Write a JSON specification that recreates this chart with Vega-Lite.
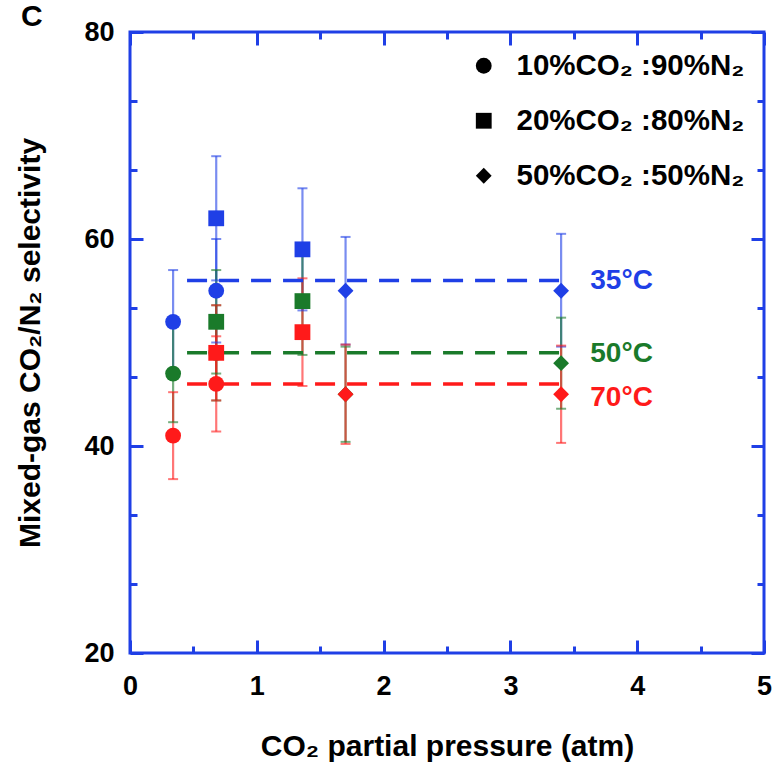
{
  "$schema": "https://vega.github.io/schema/vega-lite/v6.json",
  "width": 634,
  "height": 621,
  "autosize": {"type": "none"},
  "padding": {"left": 130, "top": 32, "right": 14, "bottom": 119},
  "background": "white",
  "title": {"text": "C", "anchor": "start", "frame": "bounds", "fontSize": 30, "fontWeight": "bold", "font": "Liberation Sans", "color": "black", "offset": 3, "dy": 17, "dx": 5},
  "config": {
    "view": {"stroke": "#1f3fe6", "strokeWidth": 3},
    "font": "Liberation Sans"
  },
  "datasets": {
    "pts": [
      {"mix": "10%CO₂ :90%N₂", "temp": "35°C", "p": 0.34, "v": 52, "lo": 47, "hi": 57},
      {"mix": "10%CO₂ :90%N₂", "temp": "35°C", "p": 0.68, "v": 55, "lo": 50, "hi": 60},
      {"mix": "20%CO₂ :80%N₂", "temp": "35°C", "p": 0.68, "v": 62, "lo": 56, "hi": 68},
      {"mix": "20%CO₂ :80%N₂", "temp": "35°C", "p": 1.36, "v": 59, "lo": 53.1, "hi": 64.9},
      {"mix": "50%CO₂ :50%N₂", "temp": "35°C", "p": 1.7, "v": 55, "lo": 49.8, "hi": 60.2},
      {"mix": "50%CO₂ :50%N₂", "temp": "35°C", "p": 3.4, "v": 55, "lo": 49.6, "hi": 60.5},
      {"mix": "10%CO₂ :90%N₂", "temp": "50°C", "p": 0.34, "v": 47, "lo": 42.3, "hi": 51.7},
      {"mix": "10%CO₂ :90%N₂", "temp": "50°C", "p": 0.68, "v": 49, "lo": 44.4, "hi": 53.6},
      {"mix": "20%CO₂ :80%N₂", "temp": "50°C", "p": 0.68, "v": 52, "lo": 47, "hi": 57},
      {"mix": "20%CO₂ :80%N₂", "temp": "50°C", "p": 1.36, "v": 54, "lo": 48.8, "hi": 59.2},
      {"mix": "50%CO₂ :50%N₂", "temp": "50°C", "p": 1.7, "v": 45, "lo": 40.4, "hi": 49.6},
      {"mix": "50%CO₂ :50%N₂", "temp": "50°C", "p": 3.4, "v": 48, "lo": 43.6, "hi": 52.4},
      {"mix": "10%CO₂ :90%N₂", "temp": "70°C", "p": 0.34, "v": 41, "lo": 36.8, "hi": 45.2},
      {"mix": "10%CO₂ :90%N₂", "temp": "70°C", "p": 0.68, "v": 46, "lo": 41.4, "hi": 50.6},
      {"mix": "20%CO₂ :80%N₂", "temp": "70°C", "p": 0.68, "v": 49, "lo": 44.4, "hi": 53.6},
      {"mix": "20%CO₂ :80%N₂", "temp": "70°C", "p": 1.36, "v": 51, "lo": 45.8, "hi": 56.2},
      {"mix": "50%CO₂ :50%N₂", "temp": "70°C", "p": 1.7, "v": 45, "lo": 40.2, "hi": 49.8},
      {"mix": "50%CO₂ :50%N₂", "temp": "70°C", "p": 3.4, "v": 45, "lo": 40.3, "hi": 49.7}
    ],
    "avg": [
      {"temp": "35°C", "x1": 0.45, "x2": 3.42, "y": 56, "ly": 55.9, "lx": 3.63},
      {"temp": "50°C", "x1": 0.45, "x2": 3.42, "y": 49, "ly": 48.85, "lx": 3.63},
      {"temp": "70°C", "x1": 0.45, "x2": 3.42, "y": 46, "ly": 44.6, "lx": 3.63}
    ]
  },
  "layer": [
    {
      "data": {"name": "pts"},
      "mark": {"type": "rule", "strokeWidth": 2.2, "opacity": 0.6},
      "encoding": {
        "x": {"field": "p", "type": "quantitative", "scale": {"domain": [0, 5], "nice": false},
          "axis": {"orient": "bottom", "values": [0, 1, 2, 3, 4, 5], "format": "d", "domain": false, "grid": false,
            "tickColor": "#1f3fe6", "tickWidth": 3, "tickSize": -13,
            "labelFont": "Liberation Sans", "labelFontWeight": "bold", "labelFontSize": 27, "labelColor": "black", "labelPadding": 33, "labelFlush": false, "labelOverlap": false,
            "title": "CO₂ partial pressure (atm)", "titleFont": "Liberation Sans", "titleFontSize": 30, "titleFontWeight": "bold", "titleColor": "black", "titlePadding": 32}},
        "y": {"field": "lo", "type": "quantitative", "scale": {"domain": [20, 80], "nice": false},
          "axis": {"orient": "left", "values": [20, 40, 60, 80], "format": "d", "domain": false, "grid": false,
            "tickColor": "#1f3fe6", "tickWidth": 3, "tickSize": -13,
            "labelFont": "Liberation Sans", "labelFontWeight": "bold", "labelFontSize": 27, "labelColor": "black", "labelPadding": 29, "labelFlush": false, "labelOverlap": false,
            "title": "Mixed-gas CO₂/N₂ selectivity", "titleFont": "Liberation Sans", "titleFontSize": 30, "titleFontWeight": "bold", "titleColor": "black", "titlePadding": 38}},
        "y2": {"field": "hi"},
        "color": {"field": "temp", "type": "nominal", "scale": {"domain": ["35°C", "50°C", "70°C"], "range": ["#1f3fe6", "#1a7a2a", "#ff1a1a"]}, "legend": null}
      }
    },
    {
      "data": {"name": "pts"},
      "mark": {"type": "tick", "orient": "horizontal", "size": 10, "thickness": 2, "opacity": 0.6},
      "encoding": {
        "x": {"field": "p", "type": "quantitative",
          "axis": {"orient": "bottom", "values": [0.5, 1.5, 2.5, 3.5, 4.5], "domain": false, "grid": false, "labels": false, "title": null,
            "tickColor": "#1f3fe6", "tickWidth": 3, "tickSize": -7}},
        "y": {"field": "lo", "type": "quantitative",
          "axis": {"orient": "left", "values": [26.6667, 33.3333, 46.6667, 53.3333, 66.6667, 73.3333], "domain": false, "grid": false, "labels": false, "title": null,
            "tickColor": "#1f3fe6", "tickWidth": 3, "tickSize": -7}},
        "color": {"field": "temp", "type": "nominal", "legend": null}
      }
    },
    {
      "data": {"name": "pts"},
      "mark": {"type": "tick", "orient": "horizontal", "size": 10, "thickness": 2, "opacity": 0.6},
      "encoding": {
        "x": {"field": "p", "type": "quantitative",
          "axis": {"orient": "top", "values": [0, 1, 2, 3, 4, 5], "domain": false, "grid": false, "labels": false, "title": null,
            "tickColor": "#1f3fe6", "tickWidth": 3, "tickSize": -13}},
        "y": {"field": "hi", "type": "quantitative",
          "axis": {"orient": "right", "values": [20, 40, 60, 80], "domain": false, "grid": false, "labels": false, "title": null,
            "tickColor": "#1f3fe6", "tickWidth": 3, "tickSize": -13}},
        "color": {"field": "temp", "type": "nominal", "legend": null}
      }
    },
    {
      "data": {"name": "avg"},
      "mark": {"type": "rule", "strokeWidth": 3.5, "strokeDash": [20, 12]},
      "encoding": {
        "x": {"field": "x1", "type": "quantitative", "axis": null},
        "x2": {"field": "x2"},
        "y": {"field": "y", "type": "quantitative", "axis": null},
        "color": {"field": "temp", "type": "nominal", "legend": null}
      }
    },
    {
      "data": {"name": "pts"},
      "mark": {"type": "point", "filled": true, "opacity": 1, "size": 250},
      "encoding": {
        "x": {"field": "p", "type": "quantitative",
          "axis": {"orient": "top", "values": [0.5, 1.5, 2.5, 3.5, 4.5], "domain": false, "grid": false, "labels": false, "title": null,
            "tickColor": "#1f3fe6", "tickWidth": 3, "tickSize": -7}},
        "y": {"field": "v", "type": "quantitative",
          "axis": {"orient": "right", "values": [26.6667, 33.3333, 46.6667, 53.3333, 66.6667, 73.3333], "domain": false, "grid": false, "labels": false, "title": null,
            "tickColor": "#1f3fe6", "tickWidth": 3, "tickSize": -7}},
        "color": {"field": "temp", "type": "nominal", "legend": null},
        "shape": {"field": "mix", "type": "nominal",
          "scale": {"domain": ["10%CO₂ :90%N₂", "20%CO₂ :80%N₂", "50%CO₂ :50%N₂"], "range": ["circle", "square", "diamond"]},
          "legend": {"title": null, "orient": "none", "legendX": 339, "legendY": 19, "padding": 0,
            "symbolSize": 250, "symbolFillColor": "black", "symbolStrokeColor": "black", "symbolStrokeWidth": 0,
            "labelFont": "Liberation Sans", "labelFontSize": 29.5, "labelFontWeight": "bold", "labelColor": "black", "labelOffset": 18, "labelLimit": 400, "rowPadding": 24}}
      }
    },
    {
      "data": {"name": "avg"},
      "mark": {"type": "text", "align": "left", "baseline": "middle", "fontSize": 28, "fontWeight": "bold", "font": "Liberation Sans"},
      "encoding": {
        "x": {"field": "lx", "type": "quantitative", "axis": null},
        "y": {"field": "ly", "type": "quantitative", "axis": null},
        "text": {"field": "temp"},
        "color": {"field": "temp", "type": "nominal", "legend": null}
      }
    }
  ],
  "resolve": {"axis": {"x": "independent", "y": "independent"}}
}
